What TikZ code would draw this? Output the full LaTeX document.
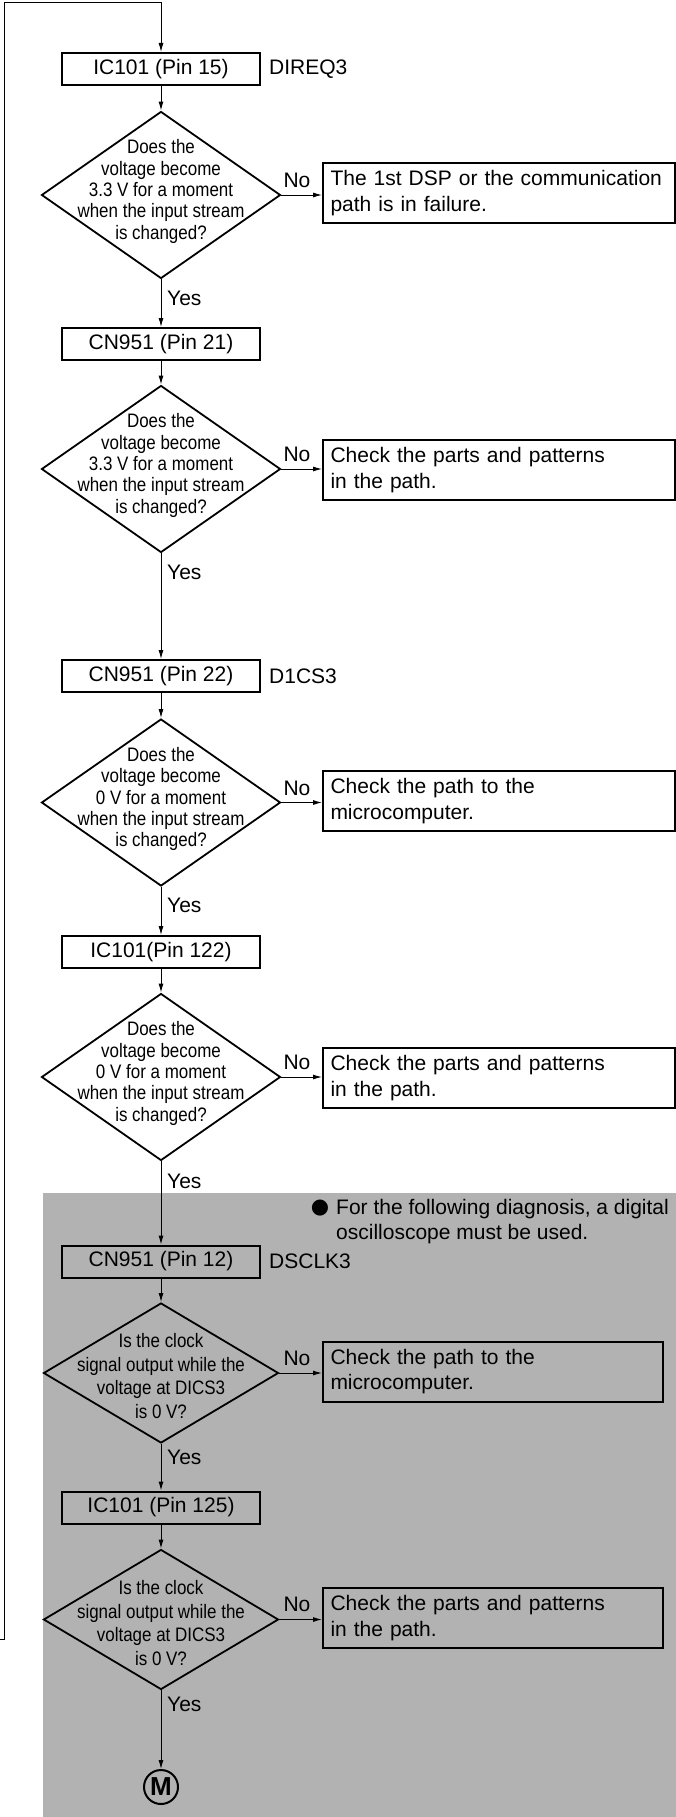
\documentclass[tikz,border=0pt]{standalone}
\usepackage{fontspec}
\setmainfont{Liberation Sans}
\newfontfamily\narrowfont[FakeStretch=0.87]{Liberation Sans}
\newfontfamily\bulletfont{DejaVu Sans}
\usetikzlibrary{arrows.meta,shapes.geometric}
\definecolor{panelgray}{gray}{0.70}

\begin{document}
\begin{tikzpicture}[x=1pt,y=-1pt,
  every node/.style={font=\fontsize{21}{25.5}\selectfont},
  pinbox/.style={draw,line width=2pt,minimum width=198pt,minimum height=32pt,inner sep=0pt},
  decision/.style={draw,diamond,line width=1.8pt,minimum width=239pt,minimum height=167pt,inner sep=0pt},
  clockdecision/.style={decision,minimum width=235pt,minimum height=140pt},
  qtext/.style={align=center,inner sep=0pt,font=\narrowfont\fontsize{19.5}{21.3}\selectfont},
  clocktext/.style={qtext,font=\narrowfont\fontsize{19.5}{23.5}\selectfont},
  failbox/.style={draw,line width=2pt,text width=337pt,inner xsep=7.5pt,minimum height=60pt,align=left},
  shortfail/.style={failbox,text width=325pt},
  flow/.style={-{Latex[length=9pt,width=5pt]},line width=1pt},
  nolbl/.style={inner sep=0pt},
  yeslbl/.style={anchor=west,inner sep=0pt},
  siglbl/.style={anchor=west,inner sep=0pt}]
\useasboundingbox (0,0) rectangle (676,1817);
\fill[panelgray] (43,1193) rectangle (676,1817);

\node[pinbox] (p1) at (161,69) {IC101 (Pin 15)};
\node[siglbl] (s1) at (269,69) {DIREQ3};
\node[decision] (q1) at (161,195) {};
\node[qtext] (t1) at (161,191.5) {Does the\\voltage become\\3.3 V for a moment\\when the input stream\\is changed?};
\node[failbox] (f1) at (499,193) {The 1st DSP or the communication\\path is in failure.};
\node[nolbl] (n1) at (297,180.5) {No};
\node[yeslbl] (y1) at (167,298) {Yes};

\node[pinbox] (p2) at (161,344) {CN951 (Pin 21)};
\node[decision] (q2) at (161,469) {};
\node[qtext] (t2) at (161,465.5) {Does the\\voltage become\\3.3 V for a moment\\when the input stream\\is changed?};
\node[failbox] (f2) at (499,470) {Check the parts and patterns\\in the path.};
\node[nolbl] (n2) at (297,454.5) {No};
\node[yeslbl] (y2) at (167,572) {Yes};

\node[pinbox] (p3) at (161,676) {CN951 (Pin 22)};
\node[siglbl] (s3) at (269,676) {D1CS3};
\node[decision] (q3) at (161,802.5) {};
\node[qtext] (t3) at (161,799) {Does the\\voltage become\\0 V for a moment\\when the input stream\\is changed?};
\node[failbox] (f3) at (499,801) {Check the path to the\\microcomputer.};
\node[nolbl] (n3) at (297,788) {No};
\node[yeslbl] (y3) at (167,905) {Yes};

\node[pinbox] (p4) at (161,952) {IC101(Pin 122)};
\node[decision] (q4) at (161,1077) {};
\node[qtext] (t4) at (161,1073.5) {Does the\\voltage become\\0 V for a moment\\when the input stream\\is changed?};
\node[failbox] (f4) at (499,1078) {Check the parts and patterns\\in the path.};
\node[nolbl] (n4) at (297,1062.5) {No};
\node[yeslbl] (y4) at (167,1181) {Yes};

\node[font=\bulletfont\fontsize{21}{25.5}\selectfont,inner sep=0pt] (bul) at (320,1208) {●};
\node[anchor=west,inner sep=0pt,align=left] (note) at (336,1221.5) {For the following diagnosis, a digital\\oscilloscope must be used.};

\node[pinbox] (p5) at (161,1261.5) {CN951 (Pin 12)};
\node[siglbl] (s5) at (269,1261.5) {DSCLK3};
\node[clockdecision] (q5) at (161,1373) {};
\node[clocktext] (t5) at (161,1376) {Is the clock\\signal output while the\\voltage at DICS3\\is 0 V?};
\node[shortfail] (f5) at (493,1371.5) {Check the path to the\\microcomputer.};
\node[nolbl] (n5) at (297,1358) {No};
\node[yeslbl] (y5) at (167,1457) {Yes};

\node[pinbox] (p6) at (161,1507.5) {IC101 (Pin 125)};
\node[clockdecision] (q6) at (161,1619.5) {};
\node[clocktext] (t6) at (161,1623) {Is the clock\\signal output while the\\voltage at DICS3\\is 0 V?};
\node[shortfail] (f6) at (493,1618) {Check the parts and patterns\\in the path.};
\node[nolbl] (n6) at (297,1604.5) {No};
\node[yeslbl] (y6) at (167,1704) {Yes};

\node[circle,draw,line width=2pt,minimum size=34pt,inner sep=0pt,font=\bfseries\fontsize{26}{26}\selectfont] (m) at (161,1787) {M};

\coordinate (ret) at (0,1639);
\coordinate (top) at (161,3);
\draw[flow] (ret) -- ++(4,0) |- (top) -- (p1.north);

\draw[flow] (p1.south) -- (q1.north);
\draw[flow] (q1.south) -- (p2.north);
\draw[flow] (q1.east) -- (q1.east -| f1.west);
\draw[flow] (p2.south) -- (q2.north);
\draw[flow] (q2.south) -- (p3.north);
\draw[flow] (q2.east) -- (q2.east -| f2.west);
\draw[flow] (p3.south) -- (q3.north);
\draw[flow] (q3.south) -- (p4.north);
\draw[flow] (q3.east) -- (q3.east -| f3.west);
\draw[flow] (p4.south) -- (q4.north);
\draw[flow] (q4.south) -- (p5.north);
\draw[flow] (q4.east) -- (q4.east -| f4.west);
\draw[flow] (p5.south) -- (q5.north);
\draw[flow] (q5.south) -- (p6.north);
\draw[flow] (q5.east) -- (q5.east -| f5.west);
\draw[flow] (p6.south) -- (q6.north);
\draw[flow] (q6.south) -- (m.north);
\draw[flow] (q6.east) -- (q6.east -| f6.west);
\end{tikzpicture}
\end{document}
